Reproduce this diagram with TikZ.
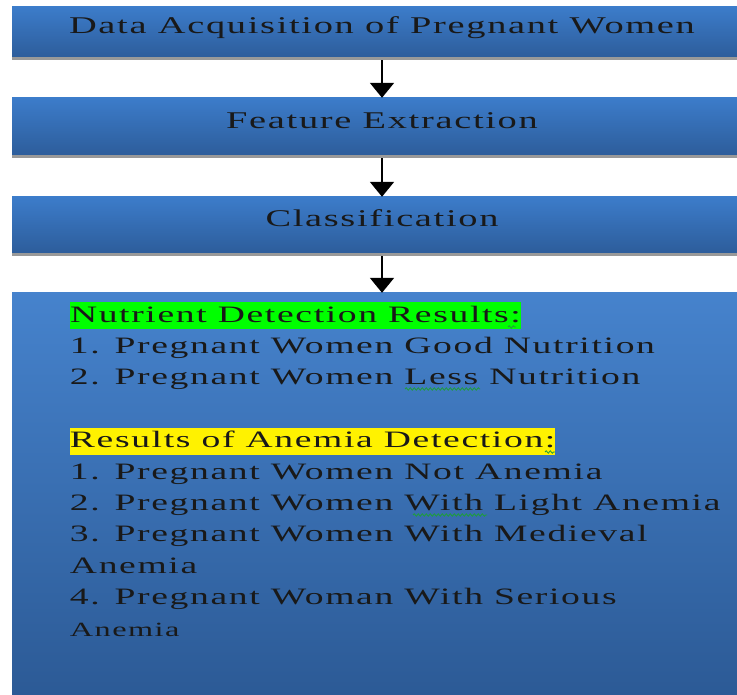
\documentclass[tikz,border=0pt]{standalone}
\usepackage{fontspec}
\usetikzlibrary{arrows.meta,shadows,decorations.pathmorphing}

\newfontfamily\diagfont[FakeStretch=1.6,LetterSpace=7]{Liberation Serif}
\definecolor{boxtop}{HTML}{3C7CCA}
\definecolor{boxbot}{HTML}{2D5D9B}
\definecolor{spellgreen}{HTML}{1E9E3A}
\newcommand{\hilite}[2]{{\fboxsep=0pt\colorbox{#1}{\rule[-7pt]{0pt}{27pt}#2}}}

\begin{document}
\begin{tikzpicture}[x=1pt,y=-1pt,
    stagebox/.style={rectangle,minimum width=740pt,minimum height=#1,inner sep=0pt,
        top color=boxtop,bottom color=boxbot,
        drop shadow={shadow xshift=0pt,shadow yshift=-3pt,fill=black!50,opacity=.8},
        font=\diagfont\fontsize{24}{29}\selectfont,text=black!90,
        text height=10pt,text depth=6pt},
    bigbox/.style={rectangle,minimum width=740pt,minimum height=420pt,inner sep=0pt,
        top color=boxtop!95!white,bottom color=boxbot!95!black},
    flowarrow/.style={line width=2pt,shorten <=3pt,-{Triangle[width=24pt,length=15pt]}},
    squiggle/.style={spellgreen,line width=.8pt,decorate,
        decoration={snake,amplitude=1.2pt,segment length=4pt}}]
    \useasboundingbox (0,0) rectangle (737,695);

    \node[stagebox=50pt] (acq) at (382,32) {Data Acquisition of Pregnant Women};
    \node[stagebox=57pt] (feat) at (382,126.5) {Feature Extraction};
    \node[stagebox=56pt] (class) at (382,225) {Classification};
    \node[bigbox] (results) at (382,503) {};

    \node[anchor=north west,inner sep=0pt,align=left,text=black!90,
          font=\diagfont\fontsize{23.5}{31.4}\selectfont]
        (resultstext) at ([shift={(58,9)}]results.north west)
        {\hilite{green}{Nutrient Detection Results:}\\
         1. Pregnant Women Good Nutrition\\
         2. Pregnant Women Less Nutrition\\[31.4pt]
         \hilite{yellow}{Results of Anemia Detection:}\\
         1. Pregnant Women Not Anemia\\
         2. Pregnant Women With Light Anemia\\
         3. Pregnant Women With Medieval\\
         Anemia\\
         4. Pregnant Woman With Serious\\
         {\fontsize{20.2}{31.4}\selectfont Anemia}};

    \draw[flowarrow] (acq) -- (feat);
    \draw[flowarrow] (feat) -- (class);
    \draw[flowarrow] (class) -- (results);

    % spell-check marks
    \draw[squiggle] (405,389) -- (480,389);
    \draw[squiggle] (413,515) -- (487,515);
    \draw[squiggle] (508,327) -- (516,327);
    \draw[squiggle] (545,452) -- (555,452);
\end{tikzpicture}
\end{document}
